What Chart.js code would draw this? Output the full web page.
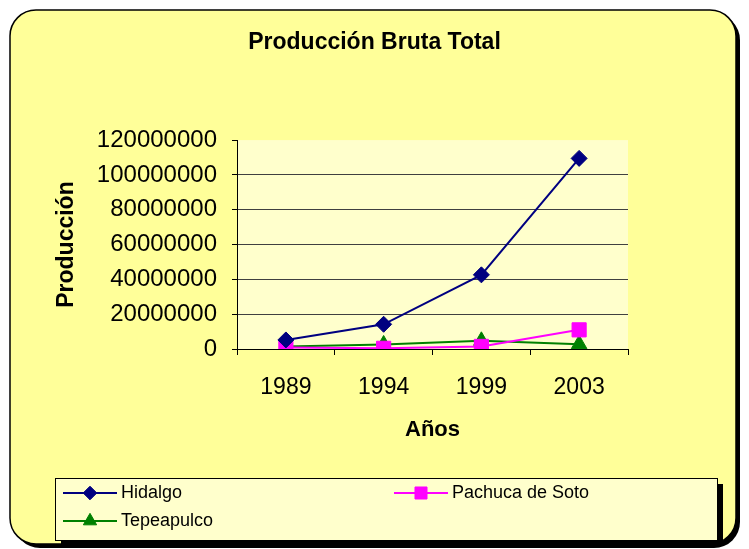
<!DOCTYPE html>
<html><head><meta charset="utf-8">
<script src="https://cdn.jsdelivr.net/npm/chart.js@4/dist/chart.umd.min.js"></script>
<style>html,body{margin:0;padding:0;background:#fff;overflow:hidden}</style>
</head><body>
<canvas id="c" width="749" height="549"></canvas>
<script>
// ---- data ----
const years = ['1989', '1994', '1999', '2003'];
const hidalgo = [5200000, 14200000, 42600000, 109500000];
const pachuca = [900000, 400000, 1500000, 11000000];
const tepeapulco = [1500000, 2600000, 4700000, 2800000];
const seriesNames = ['Hidalgo', 'Pachuca de Soto', 'Tepeapulco'];
const yMin = 0, yMax = 120000000, yStep = 20000000;

const F = 'Liberation Sans, Arial, sans-serif';

function roundRect(ctx, x, y, w, h, r) {
  ctx.beginPath();
  ctx.moveTo(x + r, y);
  ctx.lineTo(x + w - r, y);
  ctx.arcTo(x + w, y, x + w, y + r, r);
  ctx.lineTo(x + w, y + h - r);
  ctx.arcTo(x + w, y + h, x + w - r, y + h, r);
  ctx.lineTo(x + r, y + h);
  ctx.arcTo(x, y + h, x, y + h - r, r);
  ctx.lineTo(x, y + r);
  ctx.arcTo(x, y, x + r, y, r);
  ctx.closePath();
}

const frameLegendPlugin = {
  id: 'frameLegend',
  beforeDraw(chart) {
    const ctx = chart.ctx;
    ctx.save();
    ctx.fillStyle = '#fff';
    ctx.fillRect(0, 0, chart.width, chart.height);
    roundRect(ctx, 14, 14, 726, 534, 26);
    ctx.fillStyle = '#000';
    ctx.fill();
    roundRect(ctx, 10, 10, 726, 534, 26);
    ctx.fillStyle = '#FFFF99';
    ctx.fill();
    ctx.lineWidth = 1.5;
    ctx.strokeStyle = '#000';
    ctx.stroke();
    const a = chart.chartArea;
    ctx.fillStyle = '#FFFFCC';
    ctx.fillRect(a.left, a.top, a.right - a.left, a.bottom - a.top);
    ctx.restore();
  },
  afterDraw(chart) {
    const ctx = chart.ctx;
    ctx.save();
    // legend box with shadow
    ctx.fillStyle = '#000';
    ctx.fillRect(61, 484, 662, 62);
    ctx.fillStyle = '#FFFFCC';
    ctx.fillRect(55, 478, 662, 62);
    ctx.strokeStyle = '#000';
    ctx.lineWidth = 1;
    ctx.strokeRect(55.5, 478.5, 662, 62);
    const pos = [{x: 63, y: 493}, {x: 394, y: 493}, {x: 63, y: 521}];
    chart.data.datasets.forEach((ds, i) => {
      const p = pos[i];
      ctx.strokeStyle = ds.borderColor;
      ctx.lineWidth = 2;
      ctx.beginPath();
      ctx.moveTo(p.x, p.y);
      ctx.lineTo(p.x + 54, p.y);
      ctx.stroke();
      ctx.fillStyle = ds.backgroundColor;
      ctx.lineWidth = 1;
      if (Chart.helpers && Chart.helpers.drawPoint) {
        Chart.helpers.drawPoint(ctx, {pointStyle: ds.pointStyle, radius: ds.pointRadius * 0.85, borderWidth: 1, rotation: 0}, p.x + 27, p.y);
      }
      ctx.fillStyle = '#000';
      ctx.font = '18px ' + F;
      ctx.textBaseline = 'middle';
      ctx.textAlign = 'left';
      ctx.fillText(ds.label, p.x + 58, p.y);
    });
    ctx.restore();
  }
};

new Chart(document.getElementById('c'), {
  type: 'line',
  data: {
    labels: years,
    datasets: [
      {label: seriesNames[0], data: hidalgo, borderColor: '#000080', backgroundColor: '#000080',
       pointStyle: 'rectRot', pointRadius: 8, borderWidth: 2, pointBorderWidth: 1, tension: 0},
      {label: seriesNames[1], data: pachuca, borderColor: '#FF00FF', backgroundColor: '#FF00FF',
       pointStyle: 'rect', pointRadius: 10, borderWidth: 2, pointBorderWidth: 1, tension: 0},
      {label: seriesNames[2], data: tepeapulco, borderColor: '#008000', backgroundColor: '#008000',
       pointStyle: 'triangle', pointRadius: 9, borderWidth: 2, pointBorderWidth: 1, tension: 0}
    ]
  },
  options: {
    responsive: false,
    animation: false,
    devicePixelRatio: 1,
    layout: {padding: {left: 0, right: 0, top: 0, bottom: 0}},
    plugins: {
      legend: {display: false},
      tooltip: {enabled: false},
      title: {
        display: true, text: 'Producción Bruta Total', color: '#000',
        font: {family: F, size: 23, weight: 'bold', lineHeight: 1.2},
        padding: {top: 28.5, bottom: 84}
      }
    },
    scales: {
      x: {
        offset: true,
        grid: {offset: true, drawOnChartArea: false, drawTicks: true, tickLength: 6, color: '#000'},
        border: {color: '#000', width: 1},
        ticks: {color: '#000', font: {family: F, size: 23}, padding: 19, maxRotation: 0},
        title: {display: true, text: 'Años', color: '#000',
                font: {family: F, size: 22, weight: 'bold', lineHeight: 1.2}, padding: {top: 0, bottom: 106}},
        afterFit(s) { s.height = 200; }
      },
      y: {
        min: yMin, max: yMax,
        ticks: {stepSize: yStep, color: '#000', font: {family: F, size: 24}, padding: 15,
                callback: v => String(v)},
        grid: {
          color: c => (c.tick && c.tick.value === yMax) ? 'rgba(0,0,0,0)' : '#404040',
          tickColor: '#000', tickLength: 5, drawTicks: true, lineWidth: 1
        },
        border: {color: '#000', width: 1},
        title: {display: true, text: 'Producción', color: '#000',
                font: {family: F, size: 23, weight: 'bold', lineHeight: 1.2}, padding: {top: 53, bottom: 0}},
        afterFit(s) { s.width = 237; }
      },
      yRight: {
        position: 'right',
        display: true,
        min: yMin, max: yMax,
        grid: {display: false, drawOnChartArea: false},
        border: {display: false},
        ticks: {display: false},
        afterFit(s) { s.width = 121; }
      }
    }
  },
  plugins: [frameLegendPlugin]
});
</script>
</body></html>
